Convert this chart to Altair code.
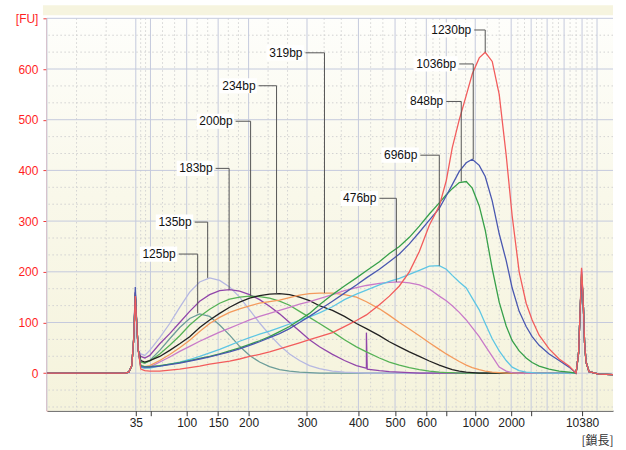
import altair as alt
import pandas as pd

# ---------------- data ----------------
series = ["125bp", "135bp", "183bp", "200bp", "234bp", "319bp",
          "476bp", "696bp", "848bp", "1036bp", "1230bp"]
colors = ["#6c9d99", "#b6b8e2", "#9146aa", "#56b256", "#222222", "#f49a5c",
          "#c97ac9", "#5ec6e4", "#37a04a", "#4a58b0", "#f25c5c"]

# migration time (s) sample positions of the smear region
smear_t = [29.4, 29.8, 30.3, 31.3, 32.3, 33.3, 34.3, 35.3, 36.3, 37.3, 38.3, 39.3,
           40.3, 41.3, 42.3, 43.3, 44.3, 45.3, 46.3, 47.3, 48.6, 49.8, 51.0, 52.0,
           53.3, 54.3, 55.3, 56.3, 57.3, 58.3, 59.3, 60.0, 60.6, 61.3, 62.0, 62.6,
           63.3, 63.9, 64.6, 65.3, 66.0, 66.6, 67.3, 68.0, 68.6, 69.3, 70.3, 71.3, 72.3]

v125 = [22, 20, 25, 45, 68, 90, 108, 117, 112, 95, 75, 53, 35, 22, 13, 7, 4, 2, 1, 0,
        0, 0, 0, 0, 0, 0, 0, 0, 0, 0, 0, 0, 0, 0, 0, 0, 0, 0, 0, 0, 0, 0, 0, 0, 0, 0,
        0, 0, 0]
v135 = [38, 35, 45, 70, 98, 130, 160, 180, 188, 183, 170, 150, 125, 99, 76, 55, 38, 25, 15, 9,
        4, 2, 1, 0, 0, 0, 0, 0, 0, 0, 0, 0, 0, 0, 0, 0, 0, 0, 0, 0, 0, 0, 0, 0, 0, 0,
        0, 0, 0]
v183 = [33, 30, 35, 58, 78, 100, 122, 142, 155, 163, 165, 162, 155, 145, 132, 117, 100, 83, 66, 52,
        37, 25, 15, 10, 5, 3, 2, 1, 0, 0, 0, 0, 0, 0, 0, 0, 0, 0, 0, 0, 0, 0, 0, 0, 0, 0,
        0, 0, 0]
v200 = [22, 20, 24, 38, 55, 74, 95, 112, 126, 138, 146, 150, 152, 151, 148, 142, 134, 122, 110, 98,
        82, 66, 52, 42, 30, 22, 16, 11, 7, 4, 2, 1, 1, 0, 0, 0, 0, 0, 0, 0, 0, 0, 0, 0, 0, 0,
        0, 0, 0]
v234 = [25, 22, 25, 33, 45, 58, 72, 90, 105, 118, 130, 140, 148, 153, 156, 157, 155, 150, 143, 133,
        124, 112, 98, 88, 74, 62, 52, 42, 33, 24, 16, 11, 7, 4, 2, 1, 0, 0, 0, 0, 0, 0, 0, 0, 0, 0,
        0, 0, 0]
v319 = [15, 13, 15, 25, 37, 50, 65, 82, 98, 110, 120, 127, 133, 138, 141, 144, 149, 154, 157, 158,
        158, 155, 150, 141, 127, 114, 100, 87, 74, 60, 47, 38, 31, 23, 16, 11, 7, 4, 2, 1, 0, 0, 0, 0, 0, 0,
        0, 0, 0]
v476 = [12, 10, 12, 22, 32, 43, 53, 63, 72, 81, 89, 97, 105, 112, 118, 124, 130, 136, 141, 147,
        155, 163, 169, 173, 177, 179, 180, 178, 174, 166, 152, 143, 133, 120, 105, 90, 72, 54, 33, 12, 4, 1, 0, 0, 0, 0,
        0, 0, 0]
v696 = [12, 10, 10, 14, 18, 22, 27, 33, 40, 47, 55, 63, 70, 77, 83, 90, 97, 104, 111, 119,
        131, 145, 156, 164, 174, 181, 187, 195, 203, 211, 212, 205, 193, 180, 168, 148, 125, 98, 68, 44, 25, 12, 5, 2, 1, 0,
        0, 0, 0]
v848 = [15, 13, 13, 15, 18, 21, 25, 29, 33, 38, 44, 50, 57, 64, 72, 82, 92, 105, 118, 135,
        155, 172, 188, 202, 220, 236, 250, 268, 290, 314, 336, 352, 364, 376, 378, 365, 330, 282, 206, 140, 93, 64, 44, 30, 21, 14,
        8, 4, 2]
v1036 = [13, 12, 12, 14, 17, 20, 24, 28, 32, 37, 42, 48, 55, 62, 70, 78, 88, 100, 112, 125,
         142, 158, 174, 188, 205, 220, 235, 255, 278, 302, 325, 350, 372, 398, 415, 422, 410, 388, 340, 275, 222, 168, 122, 92, 72, 55,
         38, 25, 12]
v1230 = [8, 5, 4, 4, 6, 8, 11, 14, 18, 21, 24, 28, 33, 37, 42, 48, 54, 60, 66, 72,
         80, 92, 104, 115, 135, 152, 172, 200, 240, 292, 330, 380, 445, 500, 548, 590, 622, 633, 615, 550, 430, 310, 200, 138, 105, 75,
         48, 28, 14]
smear_values = [v125, v135, v183, v200, v234, v319, v476, v696, v848, v1036, v1230]

# lower (35 bp) and upper (10380 bp) marker peaks
lower_t = [20.0, 25.0, 27.8, 28.2, 28.5, 28.7, 28.85, 29.0, 29.15]
lower_shape = [0, 0, 0, 2, 15, 70, 155, 95, 45]
lower_peak = [150, 155, 160, 150, 158, 148, 160, 150, 155, 170, 152]
upper_t = [73.0, 73.25, 73.4, 73.55, 73.7, 73.85, 74.0, 74.3, 75.3, 76.7]
upper_shape = [0, 40, 120, 200, 150, 60, 22, 3, -2, -3]
upper_peak = [190, 185, 200, 195, 190, 192, 205, 188, 195, 185, 208]
spike_183_t = [51.95, 52.0, 52.08]
spike_183_fu = [10, 80, 8]

# annotations
label_text_t = [32.9, 34.5, 36.6, 38.6, 40.9, 45.6, 53.0, 57.1, 59.7, 61.0, 62.5]
label_fu = [235, 298, 404, 497, 567, 632, 345, 430, 536, 610, 677]
leader_t = [35.1, 36.1, 38.25, 40.4, 43.0, 47.8, 55.0, 59.3, 61.5, 62.7, 63.9]
peak_fu = [118, 188, 165, 152, 157, 158, 180, 212, 378, 422, 633]

# axes
tick_t = [28.9, 30.37, 34.0, 37.15, 40.2, 46.05, 51.2, 54.87, 58.0, 60.0, 62.9, 66.5, 68.5, 73.6]
tick_lbl = ["35", "", "100", "150", "200", "300", "400", "500", "600", "", "1000", "2000", "", "10380"]
grid_x_major = [20.0, 28.9, 30.37, 34.0, 37.15, 40.2, 46.05, 51.2, 54.87, 58.0, 60.0,
                62.9, 66.5, 68.5, 70.1, 71.8, 73.6, 75.1]
y_ticks = [0, 100, 200, 300, 400, 500, 600, 700]

# ---------------- layout ----------------
W, H = 567, 393
X_DOM = [20.0, 76.7]
Y_DOM = [-74, 700]
FONT = "Liberation Sans"
CJK = "Noto Sans CJK JP"

grid_x_minor = []
for a, b in zip(grid_x_major[:-1], grid_x_major[1:]):
    grid_x_minor += [a + (b - a) / 3, a + 2 * (b - a) / 3]
grid_y_minor = []
for m in [-100] + y_ticks[:-1]:
    for f in (100 / 3, 200 / 3):
        if m + f > Y_DOM[0]:
            grid_y_minor.append(m + f)

x_label_expr = ""
for v, l in zip(tick_t, tick_lbl):
    x_label_expr += f"datum.value == {v} ? '{l}' : "
x_label_expr += "''"

x_axis = alt.Axis(values=tick_t, labelExpr=x_label_expr, grid=False,
                  domainColor="#3a3a3a", tickColor="#3a3a3a", tickSize=5,
                  labelFontSize=12, labelColor="#222222", labelFont=FONT,
                  labelPadding=2, labelOverlap=False, labelFlush=False,
                  title="[鎖長]", titleX=W, titleY=30, titleAlign="right",
                  titleBaseline="middle", titleFont=CJK, titleFontSize=12,
                  titleFontWeight="normal", titleColor="#333333")
y_axis = alt.Axis(values=y_ticks,
                  labelExpr="datum.value == 700 ? '[FU]' : datum.label",
                  grid=False, domainColor="#e07a7a", domainWidth=2,
                  tickColor="#f03a3a", tickSize=4, labelColor="#ff1f1f",
                  labelFontSize=12, labelFont=FONT, labelPadding=5,
                  title=None, minExtent=43, maxExtent=43)

X = lambda f: alt.X(f, type="quantitative", scale=alt.Scale(domain=X_DOM, nice=False, zero=False), axis=x_axis)
Y = lambda f: alt.Y(f, type="quantitative", scale=alt.Scale(domain=Y_DOM, nice=False, zero=False), axis=y_axis)

# background gradient of plot area
bg = alt.Chart(pd.DataFrame({"a": [0]})).mark_rect(
    color=alt.Gradient(gradient="linear",
                       stops=[alt.GradientStop(color="#fefefb", offset=0),
                              alt.GradientStop(color="#f9f8ea", offset=0.45),
                              alt.GradientStop(color="#f5f3dc", offset=1)],
                       x1=0, x2=0, y1=0, y2=1)
).encode(x=alt.value(0), x2=alt.value(W), y=alt.value(0), y2=alt.value(H))

band = alt.Chart(pd.DataFrame({"a": [0]})).mark_rect(color="#f6f4df", clip=False).encode(
    x=alt.value(-4), x2=alt.value(W), y=alt.value(-13), y2=alt.value(-3))

gx_major = alt.Chart(pd.DataFrame({"t": grid_x_major})).mark_rule(
    color="#c5cadd", strokeWidth=1).encode(x=X("t"))
gx_minor = alt.Chart(pd.DataFrame({"t": grid_x_minor})).mark_rule(
    color="#d2d2d2", strokeWidth=1, strokeDash=[1.5, 2.5]).encode(x=X("t"))
gy_major = alt.Chart(pd.DataFrame({"fu": y_ticks})).mark_rule(
    color="#c5cadd", strokeWidth=1).encode(y=Y("fu"))
gy_minor = alt.Chart(pd.DataFrame({"fu": grid_y_minor})).mark_rule(
    color="#d2d2d2", strokeWidth=1, strokeDash=[1.5, 2.5]).encode(y=Y("fu"))

layers = [bg, band, gx_minor, gy_minor, gx_major, gy_major]

for i, name in enumerate(series):
    lo = list(lower_shape)
    lo[6] = lower_peak[i]
    up = list(upper_shape)
    up[3] = upper_peak[i]
    ts = lower_t + smear_t + upper_t
    fs = lo + smear_values[i] + up
    if name == "183bp":
        ts = ts + spike_183_t
        fs = fs + spike_183_fu
    df = pd.DataFrame({"t": ts, "fu": fs}).sort_values("t")
    layers.append(
        alt.Chart(df).mark_line(color=colors[i], strokeWidth=1.3, clip=True).encode(
            x=X("t"), y=Y("fu"), order=alt.Order("t:Q"))
    )

ann = pd.DataFrame({
    "label": series, "tx": label_text_t, "ly": label_fu,
    "lx": leader_t, "py": peak_fu,
})
ann["bx1"] = ann["tx"] - ann["label"].str.len() * 0.68 - 0.2
ann["bx2"] = ann["tx"] + 0.15
ann["by1"] = ann["ly"] - 15
ann["by2"] = ann["ly"] + 15
ann["hx"] = ann["tx"] + 0.3

boxes = alt.Chart(ann).mark_rect(color="white").encode(
    x=X("bx1"), x2="bx2", y=Y("by1"), y2="by2")
hlead = alt.Chart(ann).mark_rule(color="#555555", strokeWidth=1).encode(
    x=X("hx"), x2="lx", y=Y("ly"))
vlead = alt.Chart(ann).mark_rule(color="#555555", strokeWidth=1).encode(
    x=X("lx"), y=Y("ly"), y2="py")
texts = alt.Chart(ann).mark_text(align="right", baseline="middle", fontSize=12,
                                 font=FONT, color="#111111").encode(
    x=X("tx"), y=Y("ly"), text="label")

layers += [boxes, hlead, vlead, texts]

chart = alt.layer(*layers).properties(
    width=W, height=H,
    padding={"left": 4, "top": 5, "right": 12, "bottom": 0},
    background="white",
).configure_view(stroke=None)

chart.save("out.html", embed_options={"renderer": "svg", "actions": False})
